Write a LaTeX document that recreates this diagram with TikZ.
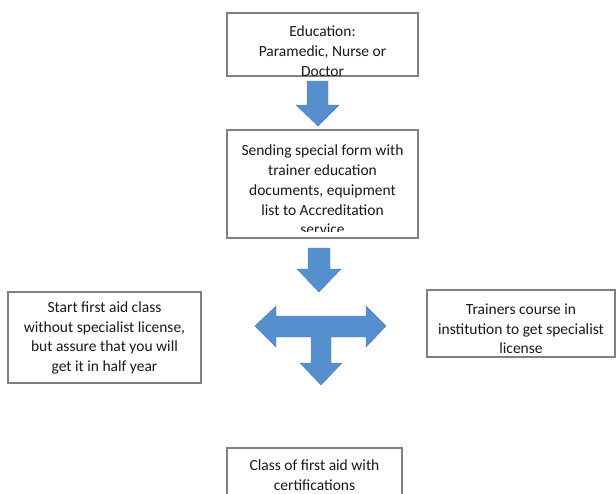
\documentclass[tikz,border=0pt]{standalone}
\usepackage{fontspec}
\setmainfont{Carlito}
\definecolor{arrowblue}{RGB}{86,143,206}
\definecolor{boxgray}{RGB}{128,128,128}
\definecolor{txt}{RGB}{25,25,25}
\begin{document}
\begin{tikzpicture}[x=1pt,y=-1pt,
  box/.style={draw=boxgray,line width=1.3pt,fill=white,inner sep=0pt},
  label/.style={align=center,text=txt,inner sep=0pt,font=\fontsize{15.5}{19.7}\selectfont},
  blockarrow/.style={fill=arrowblue,draw=arrowblue!90!black,line width=0.4pt,line join=miter}]
\useasboundingbox (0,0) rectangle (616,493);
\begin{scope}
\clip (0,0) rectangle (616,493);
% boxes
\node[box,minimum width=191pt,minimum height=63pt] (edu) at (322.5,44.5) {};
\node[label] (edu-t) at (322.5,51) {Education:\\Paramedic, Nurse or\\Doctor};

\node[box,minimum width=191pt,minimum height=108pt] (send) at (322.5,184) {};
\begin{scope}
\clip ([shift={(1pt,7pt)}]send.south west) rectangle ([shift={(-1pt,-1pt)}]send.north east);
\node[label] (send-t) at (322.5,190) {Sending special form with\\trainer education\\documents, equipment\\list to Accreditation\\service};
\end{scope}

\node[box,minimum width=193pt,minimum height=91pt] (start) at (104.5,337.5) {};
\node[label] (start-t) at (104.5,338) {Start first aid class\\without specialist license,\\but assure that you will\\get it in half year};

\node[box,minimum width=188pt,minimum height=67pt] (course) at (521,323.5) {};
\node[label] (course-t) at (521,329) {Trainers course in\\institution to get specialist\\license};

\node[box,minimum width=175pt,minimum height=70pt] (cls) at (314.5,483) {};
\node[label] (cls-t) at (314.5,475) {Class of first aid with\\certifications};

% block arrows
\coordinate (a1) at (318,81);
\draw[blockarrow] (307,81) -- (328,81) -- (328,105) -- (339,105) -- (318,126) -- (296,105) -- (307,105) -- cycle;
\coordinate (a2) at (319,248);
\draw[blockarrow] (308,248) -- (330,248) -- (330,269) -- (341,269) -- (319,292) -- (297,269) -- (308,269) -- cycle;
\coordinate (t) at (321,326);
\draw[blockarrow] (255,326) -- (276,306) -- (276,316) -- (366,316) -- (366,306) -- (386,326) -- (366,347) -- (366,337) -- (331,337) -- (331,363) -- (342,363) -- (321,385) -- (300,363) -- (311,363) -- (311,337) -- (276,337) -- (276,347) -- cycle;
\end{scope}
\end{tikzpicture}
\end{document}
